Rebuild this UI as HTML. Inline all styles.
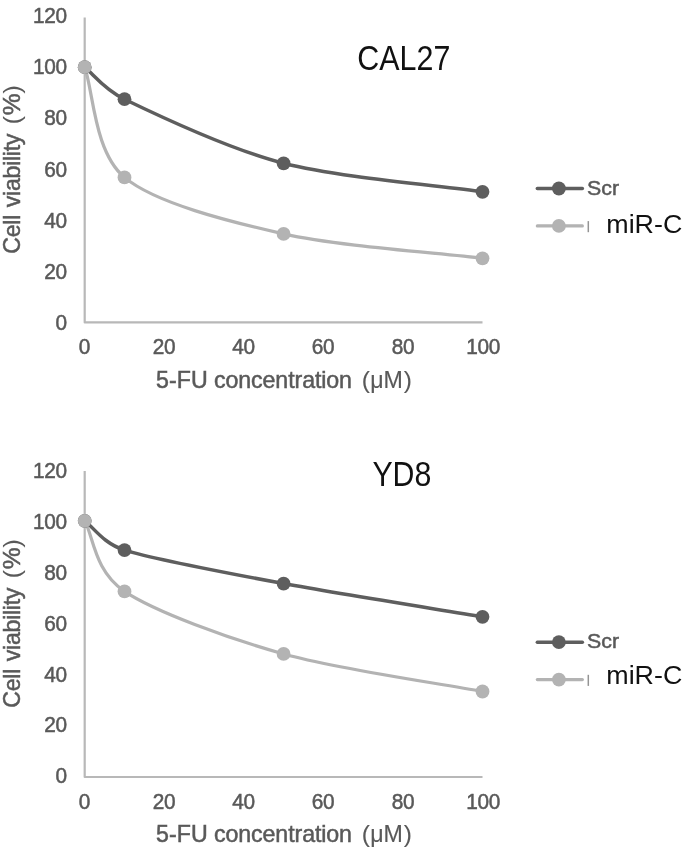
<!DOCTYPE html>
<html><head><meta charset="utf-8"><title>Cell viability</title>
<style>
html,body{margin:0;padding:0;background:#fff;}
svg{display:block;filter:blur(0.55px);}
text{font-family:"Liberation Sans",sans-serif;}
.tk{font-size:20.8px;fill:#595959;stroke:#595959;stroke-width:0.5px;letter-spacing:-0.3px;}
.at{font-size:23.2px;fill:#595959;stroke:#595959;stroke-width:0.5px;}
.ls{letter-spacing:-0.3px;}
.lc{letter-spacing:-0.1px;}
.mu{stroke-width:0.15px;}
.pc{font-size:24.6px;}
.pp{font-size:24.5px;stroke-width:0.1px;}
.lg{font-size:18.6px;fill:#595959;stroke:#595959;stroke-width:0.45px;}
.ti{font-size:34.6px;fill:#111;}
.lm{font-size:26.5px;fill:#111;}
</style></head><body>
<svg width="685" height="852" viewBox="0 0 685 852">
<rect width="685" height="852" fill="#fff"/>
<path d="M84.7 17.5 V322.4 H482.5" fill="none" stroke="#b8b8b8" stroke-width="2.2" stroke-linejoin="round"/>
<text transform="translate(66.8 329.80) scale(1 1.04)" text-anchor="end" class="tk">0</text>
<text transform="translate(66.8 278.70) scale(1 1.04)" text-anchor="end" class="tk">20</text>
<text transform="translate(66.8 227.60) scale(1 1.04)" text-anchor="end" class="tk">40</text>
<text transform="translate(66.8 176.50) scale(1 1.04)" text-anchor="end" class="tk">60</text>
<text transform="translate(66.8 125.40) scale(1 1.04)" text-anchor="end" class="tk">80</text>
<text transform="translate(66.8 74.30) scale(1 1.04)" text-anchor="end" class="tk">100</text>
<text transform="translate(66.8 23.20) scale(1 1.04)" text-anchor="end" class="tk">120</text>
<text transform="translate(84.3 353.70) scale(1 1.04)" text-anchor="middle" class="tk">0</text>
<text transform="translate(163.9 353.70) scale(1 1.04)" text-anchor="middle" class="tk">20</text>
<text transform="translate(243.4 353.70) scale(1 1.04)" text-anchor="middle" class="tk">40</text>
<text transform="translate(323.0 353.70) scale(1 1.04)" text-anchor="middle" class="tk">60</text>
<text transform="translate(403.0 353.70) scale(1 1.04)" text-anchor="middle" class="tk">80</text>
<text transform="translate(483.1 353.70) scale(1 1.04)" text-anchor="middle" class="tk">100</text>
<text transform="translate(19.9 0) rotate(-90)" y="0" class="at"><tspan x="-253.7" class="ls">Cell</tspan> <tspan x="-207.2" class="ls">viability</tspan> <tspan x="-124.3" class="pp">(</tspan><tspan x="-115.2" class="pc">%</tspan><tspan x="-93.6" class="pp">)</tspan></text>
<text y="387.7" class="at"><tspan x="156.1" class="at0">5-FU</tspan> <tspan x="214.0" class="lc">concentration</tspan> <tspan x="361.8" class="pp">(</tspan><tspan x="370.2" class="mu">μM</tspan><tspan x="403.8" class="pp">)</tspan></text>
<text x="357.3" y="69.7" class="ti" textLength="93" lengthAdjust="spacingAndGlyphs">CAL27</text>
<path d="M84.70 67.15 C93.45 74.20 103.78 89.20 124.48 99.21 C145.18 109.22 228.52 149.06 283.60 163.30 C338.68 177.55 438.74 185.52 482.50 191.79" fill="none" stroke="#5e5e5e" stroke-width="3.5" stroke-linecap="round"/>
<path d="M84.70 67.15 C93.45 91.40 93.88 151.74 124.48 177.39 C155.08 203.05 228.52 221.46 283.60 233.90 C338.68 246.35 438.74 252.94 482.50 258.31" fill="none" stroke="#b3b3b3" stroke-width="3.2" stroke-linecap="round"/>
<circle cx="84.7" cy="67.2" r="6.9" fill="#5e5e5e"/>
<circle cx="124.5" cy="99.2" r="6.9" fill="#5e5e5e"/>
<circle cx="283.6" cy="163.3" r="6.9" fill="#5e5e5e"/>
<circle cx="482.5" cy="191.8" r="6.9" fill="#5e5e5e"/>
<circle cx="84.7" cy="67.2" r="6.9" fill="#b3b3b3"/>
<circle cx="124.5" cy="177.4" r="6.9" fill="#b3b3b3"/>
<circle cx="283.6" cy="233.9" r="6.9" fill="#b3b3b3"/>
<circle cx="482.5" cy="258.3" r="6.9" fill="#b3b3b3"/>
<path d="M537.3 188.5 H582.4" stroke="#5e5e5e" stroke-width="3.4" stroke-linecap="round"/><circle cx="558.9" cy="188.5" r="6.9" fill="#5e5e5e"/>
<text transform="translate(587.0 194.6) scale(1 1.05)" class="lg" textLength="32" lengthAdjust="spacingAndGlyphs">Scr</text>
<path d="M537.3 225.9 H582.4" stroke="#b3b3b3" stroke-width="3.1" stroke-linecap="round"/><circle cx="558.9" cy="225.9" r="6.9" fill="#b3b3b3"/>
<path d="M588.3 221.1 V232.2" stroke="#949494" stroke-width="1.5"/>
<text x="606.3" y="233.4" class="lm" textLength="76" lengthAdjust="spacingAndGlyphs">miR-C</text>
<path d="M84.7 470.9 V777.0 H482.5" fill="none" stroke="#b8b8b8" stroke-width="2.2" stroke-linejoin="round"/>
<text transform="translate(66.8 783.40) scale(1 1.04)" text-anchor="end" class="tk">0</text>
<text transform="translate(66.8 732.48) scale(1 1.04)" text-anchor="end" class="tk">20</text>
<text transform="translate(66.8 681.57) scale(1 1.04)" text-anchor="end" class="tk">40</text>
<text transform="translate(66.8 630.65) scale(1 1.04)" text-anchor="end" class="tk">60</text>
<text transform="translate(66.8 579.73) scale(1 1.04)" text-anchor="end" class="tk">80</text>
<text transform="translate(66.8 528.82) scale(1 1.04)" text-anchor="end" class="tk">100</text>
<text transform="translate(66.8 477.90) scale(1 1.04)" text-anchor="end" class="tk">120</text>
<text transform="translate(84.3 808.50) scale(1 1.04)" text-anchor="middle" class="tk">0</text>
<text transform="translate(163.9 808.50) scale(1 1.04)" text-anchor="middle" class="tk">20</text>
<text transform="translate(243.4 808.50) scale(1 1.04)" text-anchor="middle" class="tk">40</text>
<text transform="translate(323.0 808.50) scale(1 1.04)" text-anchor="middle" class="tk">60</text>
<text transform="translate(403.0 808.50) scale(1 1.04)" text-anchor="middle" class="tk">80</text>
<text transform="translate(483.1 808.50) scale(1 1.04)" text-anchor="middle" class="tk">100</text>
<text transform="translate(19.9 0) rotate(-90)" y="0" class="at"><tspan x="-707.7" class="ls">Cell</tspan> <tspan x="-661.2" class="ls">viability</tspan> <tspan x="-578.3" class="pp">(</tspan><tspan x="-569.2" class="pc">%</tspan><tspan x="-547.6" class="pp">)</tspan></text>
<text y="842.2" class="at"><tspan x="156.1" class="at0">5-FU</tspan> <tspan x="214.0" class="lc">concentration</tspan> <tspan x="361.8" class="pp">(</tspan><tspan x="370.2" class="mu">μM</tspan><tspan x="403.8" class="pp">)</tspan></text>
<text x="372.4" y="486.3" class="ti" textLength="59" lengthAdjust="spacingAndGlyphs">YD8</text>
<path d="M84.70 520.80 C93.45 527.24 103.28 543.40 124.48 550.09 C145.68 556.78 228.52 573.32 283.60 583.58 C338.68 593.84 438.74 609.47 482.50 616.77" fill="none" stroke="#5e5e5e" stroke-width="3.5" stroke-linecap="round"/>
<path d="M84.70 520.80 C93.45 536.33 94.19 571.09 124.48 591.37 C154.77 611.65 228.52 638.54 283.60 653.95 C338.68 669.35 438.74 683.23 482.50 691.49" fill="none" stroke="#b3b3b3" stroke-width="3.2" stroke-linecap="round"/>
<circle cx="84.7" cy="520.8" r="6.9" fill="#5e5e5e"/>
<circle cx="124.5" cy="550.1" r="6.9" fill="#5e5e5e"/>
<circle cx="283.6" cy="583.6" r="6.9" fill="#5e5e5e"/>
<circle cx="482.5" cy="616.8" r="6.9" fill="#5e5e5e"/>
<circle cx="84.7" cy="520.8" r="6.9" fill="#b3b3b3"/>
<circle cx="124.5" cy="591.4" r="6.9" fill="#b3b3b3"/>
<circle cx="283.6" cy="653.9" r="6.9" fill="#b3b3b3"/>
<circle cx="482.5" cy="691.5" r="6.9" fill="#b3b3b3"/>
<path d="M537.3 642.2 H582.4" stroke="#5e5e5e" stroke-width="3.4" stroke-linecap="round"/><circle cx="558.9" cy="642.2" r="6.9" fill="#5e5e5e"/>
<text transform="translate(587.0 648.3) scale(1 1.05)" class="lg" textLength="32" lengthAdjust="spacingAndGlyphs">Scr</text>
<path d="M537.3 679.6 H582.4" stroke="#b3b3b3" stroke-width="3.1" stroke-linecap="round"/><circle cx="558.9" cy="679.6" r="6.9" fill="#b3b3b3"/>
<path d="M588.3 674.8 V685.9" stroke="#949494" stroke-width="1.5"/>
<text x="606.3" y="684.2" class="lm" textLength="76" lengthAdjust="spacingAndGlyphs">miR-C</text>
</svg>
</body></html>
